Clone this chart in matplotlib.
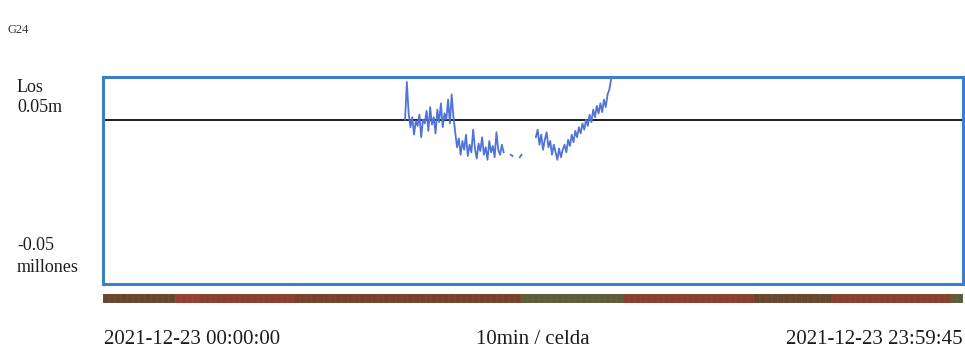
import numpy as np
import matplotlib
matplotlib.use("Agg")
import matplotlib.pyplot as plt

# Signal samples (thousandths), every 0.05 h starting 08:25:48; NaN = no data
t_start_h = 8.43
t_step_h = 0.05
signal_milli = [
    50, 80, 55, 44, 52, 38, 49, 45, 54, 36, 50, 47, 57, 41, 60, 46, 52, 39, 58, 48,
    63, 44, 55, 50, 66, 47, 70, 52,
    40, 28, 35, 22, 33, 26, 38, 21, 30, 24, 42, 27, 19, 31, 25, 36, 22, 28, 18, 33,
    24, 29, 20, 40, 26, 22, 30, 24,
    np.nan, np.nan, np.nan, 22, 21, np.nan, np.nan, np.nan, 20, 22, np.nan, np.nan,
    np.nan, np.nan, np.nan, np.nan, np.nan,
    36, 42, 30, 38, 26, 34, 40, 28, 33, 22, 30, 24, 18, 27, 20,
    26, 30, 24, 34, 29, 38, 32, 41, 36, 44, 39, 47, 42, 50, 45, 54, 48, 58, 52, 61, 55,
    63, 56, 66, 60, 70, 74, 82,
]
reference_level = 0.05
y_limits = (-0.081, 0.084)

# Status strip: 10-minute cells over the day, as runs of (state, cell count)
strip_states = ["olive", "red", "redbrown", "brown", "green", "redbrown", "olive", "redbrown", "green"]
strip_runs = [12, 4, 16, 38, 17, 22, 13, 20, 2]
state_colors = {
    "olive": "#63472c",
    "red": "#98402f",
    "redbrown": "#8a3e2b",
    "brown": "#76402b",
    "green": "#55613a",
}

y_labels_top = ["Los", "0.05m"]
y_labels_bottom = ["-0.05", "millones"]
title_text = "G24"
start_label = "2021-12-23 00:00:00"
mid_label = "10min / celda"
end_label = "2021-12-23 23:59:45"

W, H = 965, 350
fig = plt.figure(figsize=(W / 100, H / 100), dpi=100)
fig.patch.set_facecolor("white")
serif = ["Liberation Serif", "DejaVu Serif"]
text_color = "#1c1c1c"


def fx(px):
    return px / W


def fy(py):
    return 1 - py / H


# Main plotting box
ax = fig.add_axes([fx(103), fy(284), fx(963) - fx(103), fy(77) - fy(284)])
values = np.array(signal_milli, dtype=float) / 1000.0
times = t_start_h + t_step_h * np.arange(len(values))
ax.axhline(reference_level, color="#1e1e1e", lw=1.4, zorder=2)
ax.plot(times, values, color="#4f74d6", lw=1.3, zorder=3)
ax.set_xlim(0, 24)
ax.set_ylim(*y_limits)
ax.set_xticks([])
ax.set_yticks([])
for sp in ax.spines.values():
    sp.set_color("#3b7fc6")
    sp.set_linewidth(2.2)

# Status strip below the box
sax = fig.add_axes([fx(103), fy(303), fx(963) - fx(103), fy(294) - fy(303)])
cell_colors = []
for state, n in zip(strip_states, strip_runs):
    cell_colors += [state_colors[state]] * n
n_cells = len(cell_colors)
sax.bar(np.arange(n_cells), np.ones(n_cells), width=1.0, align="edge",
        color=cell_colors, edgecolor="#8f5540", linewidth=0.3)
sax.set_xlim(0, n_cells)
sax.set_ylim(0, 1)
sax.axis("off")

# Texts
fig.text(fx(7), fy(30), title_text, fontsize=9, family=serif, color="#333333", va="center")
fig.text(fx(17), fy(88), y_labels_top[0], fontsize=13, family=serif, color=text_color, va="center")
fig.text(fx(17), fy(107), y_labels_top[1], fontsize=13, family=serif, color=text_color, va="center")
fig.text(fx(17), fy(245), y_labels_bottom[0], fontsize=13, family=serif, color=text_color, va="center")
fig.text(fx(17), fy(268), y_labels_bottom[1], fontsize=13, family=serif, color=text_color, va="center")
fig.text(fx(104), fy(339), start_label, fontsize=15, family=serif, color=text_color, va="center", ha="left")
fig.text(fx(533), fy(339), mid_label, fontsize=15, family=serif, color=text_color, va="center", ha="center")
fig.text(fx(963), fy(339), end_label, fontsize=15, family=serif, color=text_color, va="center", ha="right")

fig.savefig("out.png", dpi=100)
